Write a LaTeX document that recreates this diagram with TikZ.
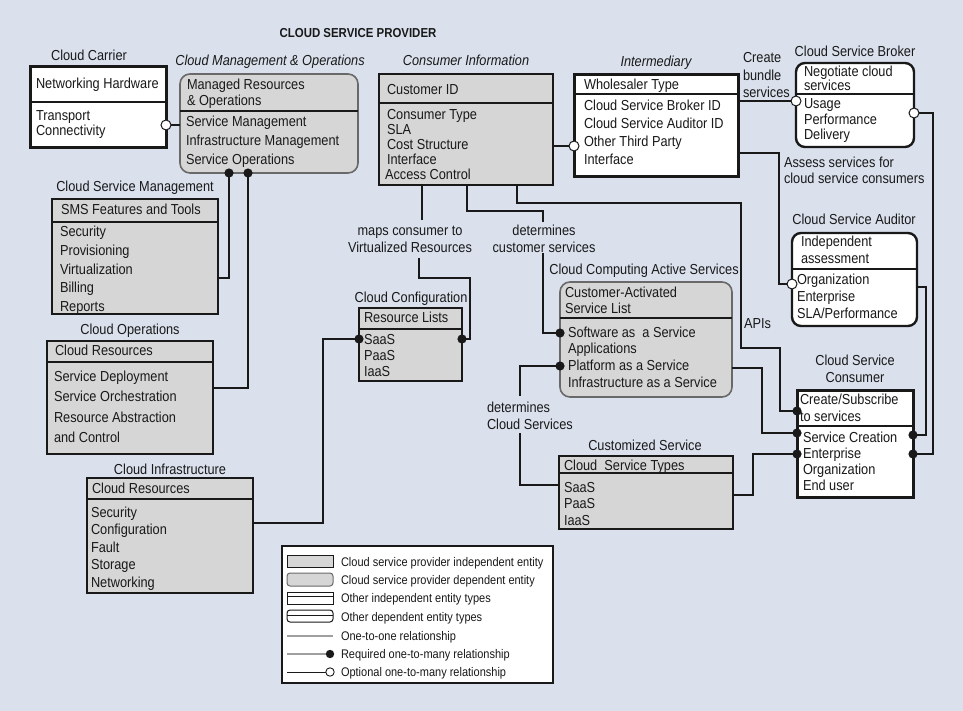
\documentclass[tikz,border=0pt]{standalone}
\usepackage{fontspec}
\setmainfont{Liberation Sans}[FakeStretch=0.88]
\definecolor{bg}{RGB}{218,225,237}
\definecolor{boxgray}{RGB}{214,214,214}
\definecolor{rgray}{RGB}{105,105,105}
\definecolor{ink}{RGB}{25,25,25}
\newcommand\reqdot[1]{\fill[ink] #1 circle[radius=4.6];}
\newcommand\opendot[1]{\draw[ink, line width=1pt, fill=white] #1 circle[radius=5];}
\newcommand\txtlines[5]{%
  \foreach \t [count=\i from 0] in {#5} {\node[txt] (#1\i) at (#2, {#3+\i*#4}) {\t};}}
\begin{document}
\begin{tikzpicture}[x=1pt, y=-1pt,
  txt/.style={font=\fontsize{14.5}{17}\selectfont, text=ink, inner sep=0, outer sep=0, anchor=base west},
  ctr/.style={txt, anchor=base},
  ital/.style={ctr, font=\fontsize{14.5}{17}\selectfont\itshape},
  leg/.style={txt, font=\fontsize{12.5}{15}\selectfont},
  gbox/.style={draw=ink, fill=boxgray, line width=1.2pt, rectangle, inner sep=0, outer sep=0, anchor=north west},
  rgbox/.style={gbox, draw=rgray, line width=1.6pt, rounded corners=10pt},
  wbox/.style={draw=ink, fill=white, line width=3pt, rectangle, inner sep=0, outer sep=0, anchor=north west},
  rwbox/.style={wbox, line width=2.4pt, rounded corners=9pt},
  div/.style={draw=ink, line width=1.2pt},
  conn/.style={draw=ink, line width=1.1pt}]
\path[use as bounding box, fill=bg] (0,0) rectangle (963,711);

% title
\node[ctr, font=\fontsize{13}{15}\selectfont\bfseries] (title) at (358,38) {CLOUD SERVICE PROVIDER};

% ---------- boxes ----------
\node[wbox, minimum width=136pt, minimum height=81pt] (carrier) at (30,67) {};
\node[rgbox, minimum width=178pt, minimum height=99pt] (cmgmt) at (180,74) {};
\node[gbox, minimum width=166pt, minimum height=115pt] (sms) at (52,199) {};
\node[gbox, minimum width=166pt, minimum height=113pt] (cops) at (47,341) {};
\node[gbox, minimum width=166pt, minimum height=115pt] (cinfra) at (87,478) {};
\node[gbox, minimum width=174pt, minimum height=111pt] (cinfo) at (379,74) {};
\node[gbox, minimum width=103pt, minimum height=73pt] (cconf) at (359,308) {};
\node[rgbox, minimum width=172pt, minimum height=115pt] (ccas) at (560,282) {};
\node[gbox, minimum width=174pt, minimum height=73pt] (cust) at (559,456) {};
\node[wbox, minimum width=164pt, minimum height=102pt] (inter) at (574,75) {};
\node[rwbox, minimum width=118pt, minimum height=84pt] (broker) at (796,63) {};
\node[rwbox, minimum width=125pt, minimum height=93pt] (auditor) at (792,233) {};
\node[wbox, minimum width=116pt, minimum height=107pt] (consumer) at (797,390) {};
\node[draw=ink, fill=white, line width=1.1pt, rectangle, inner sep=0, outer sep=0, anchor=north west,
      minimum width=271pt, minimum height=137pt] (legend) at (282,546) {};

% dividers
\draw[div] (carrier.west |- 0,102) -- (carrier.east |- 0,102);
\draw[div] (cmgmt.west |- 0,111) -- (cmgmt.east |- 0,111);
\draw[div] (sms.west |- 0,222) -- (sms.east |- 0,222);
\draw[div] (cops.west |- 0,362) -- (cops.east |- 0,362);
\draw[div] (cinfra.west |- 0,499) -- (cinfra.east |- 0,499);
\draw[div] (cinfo.west |- 0,103) -- (cinfo.east |- 0,103);
\draw[div] (cconf.west |- 0,329) -- (cconf.east |- 0,329);
\draw[div] (ccas.west |- 0,318) -- (ccas.east |- 0,318);
\draw[div] (cust.west |- 0,473) -- (cust.east |- 0,473);
\draw[div] (inter.west |- 0,94) -- (inter.east |- 0,94);
\draw[div] (broker.west |- 0,94) -- (broker.east |- 0,94);
\draw[div] (auditor.west |- 0,269) -- (auditor.east |- 0,269);
\draw[div] (consumer.west |- 0,426) -- (consumer.east |- 0,426);

% ---------- box labels ----------
\node[ctr] (lcarrier) at (89,61) {Cloud Carrier};
\node[ital] (lcmgmt) at (270,66) {Cloud Management \& Operations};
\node[ctr] (lsms) at (135,192) {Cloud Service Management};
\node[ctr] (lcops) at (130,334) {Cloud Operations};
\node[ctr] (lcinfra) at (170,474) {Cloud Infrastructure};
\node[ital] (lcinfo) at (466,66) {Consumer Information};
\node[ital] (linter) at (656,67) {Intermediary};
\node[ctr] (lbroker) at (855,57) {Cloud Service Broker};
\node[ctr] (lauditor) at (854,225) {Cloud Service Auditor};
\node[ctr] (lcons1) at (855,365) {Cloud Service};
\node[ctr] (lcons2) at (855,382) {Consumer};
\node[ctr] (lcconf) at (411,302) {Cloud Configuration};
\node[ctr] (lccas) at (644,274) {Cloud Computing Active Services};
\node[ctr] (lcust) at (645,450) {Customized Service};

% ---------- box texts ----------
\txtlines{carA}{36}{89}{15}{Networking Hardware}
\txtlines{carB}{36}{121}{15}{Transport, Connectivity}
\txtlines{cmA}{187}{90}{16}{Managed Resources, \& Operations}
\txtlines{cmB}{186}{127}{19}{Service Management, Infrastructure Management, Service Operations}
\txtlines{smsA}{61}{215}{18}{SMS Features and Tools}
\txtlines{smsB}{60}{237}{18.5}{Security, Provisioning, Virtualization, Billing, Reports}
\txtlines{copA}{55}{355}{18}{Cloud Resources}
\txtlines{copB}{54}{381}{20.5}{Service Deployment, Service Orchestration, Resource Abstraction, and Control}
\txtlines{cinA}{92}{493}{18}{Cloud Resources}
\txtlines{cinB}{91}{517}{17.5}{Security, Configuration, Fault, Storage, Networking}
\txtlines{ciA}{387}{95}{15}{Customer ID}
\txtlines{ciB}{387}{120}{15}{Consumer Type, SLA, Cost Structure, Interface}
\node[txt] (ciB4) at (385,180) {Access Control};
\txtlines{itA}{584}{90}{18}{Wholesaler Type}
\txtlines{itB}{584}{111}{18}{Cloud Service Broker ID, Cloud Service Auditor ID, Other Third Party, Interface}
\txtlines{brA}{804}{77}{14}{Negotiate cloud, services}
\txtlines{brB}{804}{109}{15.5}{Usage, Performance, Delivery}
\txtlines{auA}{801}{247}{17}{Independent, assessment}
\txtlines{auB}{797}{284}{17}{Organization, Enterprise, SLA/Performance}
\txtlines{coA}{800}{404}{17}{Create/Subscribe, to services}
\txtlines{coB}{803}{442}{16.3}{Service Creation, Enterprise, Organization, End user}
\txtlines{cfA}{364}{322}{16}{Resource Lists}
\txtlines{cfB}{364}{344}{16}{SaaS, PaaS, IaaS}
\txtlines{caA}{565}{297}{16.5}{Customer-Activated, Service List}
\txtlines{caB}{568}{337}{16.7}{Software as\ \ a Service, Applications, Platform as a Service, Infrastructure as a Service}
\txtlines{cuA}{564}{470}{16}{Cloud\ \ Service Types}
\txtlines{cuB}{564}{492}{16.5}{SaaS, PaaS, IaaS}

% ---------- connector labels ----------
\node[ctr] (mapsA) at (410,236) {maps consumer to};
\node[ctr] (mapsB) at (410,252) {Virtualized Resources};
\node[ctr] (detA) at (544,236) {determines};
\node[ctr] (detB) at (544,252) {customer services};
\node[txt] (det2A) at (487,412) {determines};
\node[txt] (det2B) at (487,429) {Cloud Services};
\node[txt] (apis) at (744,328) {APIs};
\txtlines{bund}{743}{63}{17.5}{Create, bundle, services}
\txtlines{assess}{784}{168}{16}{Assess services for, cloud service consumers}

% ---------- connectors ----------
\draw[conn] (carrier.east |- 0,125) -- (cmgmt.west |- 0,125);
\opendot{(carrier.east |- 0,125)}
\draw[conn] (cmgmt.south -| 229,0) |- (sms.east |- 0,278);
\reqdot{(cmgmt.south -| 229,0)}
\draw[conn] (cmgmt.south -| 248,0) |- (cops.east |- 0,388);
\reqdot{(cmgmt.south -| 248,0)}

\draw[conn] (cinfo.east |- 0,146) -- (inter.west |- 0,146);
\opendot{(inter.west |- 0,146)}

\coordinate (mapsTop) at (422,220);
\coordinate (mapsBot) at (419,258);
\draw[conn] (cinfo.south -| 422,0) -- (mapsTop);
\draw[conn] (mapsBot) -- (419,278) -| (470,339) -- (cconf.east |- 0,339);
\reqdot{(cconf.east |- 0,339)}

\coordinate (detTop) at (543,222);
\coordinate (detBot) at (543,253);
\draw[conn] (cinfo.south -| 467,0) |- (543,211) -- (detTop);
\draw[conn] (detBot) |- (ccas.west |- 0,333);
\reqdot{(ccas.west |- 0,333)}

\draw[conn] (cinfo.south -| 517,0) |- (741,203) |- (780,348) |- (consumer.west |- 0,411);
\reqdot{(consumer.west |- 0,411)}

\draw[conn] (cinfra.east |- 0,523) -| (323,339) -- (cconf.west |- 0,339);
\reqdot{(cconf.west |- 0,339)}

\coordinate (det2Top) at (520,396);
\coordinate (det2Bot) at (520,433);
\draw[conn] (ccas.west |- 0,366) -| (det2Top);
\draw[conn] (det2Bot) |- (cust.west |- 0,485);
\reqdot{(ccas.west |- 0,366)}

\draw[conn] (ccas.east |- 0,368) -| (762,433) -- (consumer.west |- 0,433);
\reqdot{(consumer.west |- 0,433)}
\draw[conn] (cust.east |- 0,495) -| (753,454) -- (consumer.west |- 0,454);
\reqdot{(consumer.west |- 0,454)}

\draw[conn] (inter.east |- 0,101) -- (broker.west |- 0,101);
\opendot{(broker.west |- 0,101)}
\draw[conn] (inter.east |- 0,153) -| (779,284) -- (auditor.west |- 0,284);
\opendot{(auditor.west |- 0,284)}

\draw[conn] (broker.east |- 0,113) -| (933,454) -- (consumer.east |- 0,454);
\opendot{(broker.east |- 0,113)}
\reqdot{(consumer.east |- 0,454)}
\draw[conn] (auditor.east |- 0,287) -| (926,435) -- (consumer.east |- 0,435);
\reqdot{(consumer.east |- 0,435)}

% ---------- legend ----------
\node[gbox, line width=1pt, minimum width=46pt, minimum height=12pt] (lg1) at (287,555) {};
\node[gbox, draw=rgray, line width=1pt, rounded corners=3pt, minimum width=46pt, minimum height=13pt] (lg2) at (287,573) {};
\node[wbox, line width=1pt, minimum width=46pt, minimum height=12pt] (lg3) at (287,592) {};
\draw[ink, line width=0.9pt] (lg3.west |- 0,596) -- (lg3.east |- 0,596);
\node[wbox, line width=1pt, rounded corners=3pt, minimum width=46pt, minimum height=12pt] (lg4) at (287,610) {};
\draw[ink, line width=0.9pt] (lg4.west |- 0,615) -- (lg4.east |- 0,615);
\coordinate (l5a) at (287,636); \coordinate (l5b) at (333,636);
\draw[gray!75, line width=1.6pt] (l5a) -- (l5b);
\coordinate (l6a) at (287,654); \coordinate (l6b) at (330,654);
\draw[gray!75, line width=1.6pt] (l6a) -- (l6b);
\fill[ink] (l6b) circle[radius=4.2];
\coordinate (l7a) at (287,672); \coordinate (l7b) at (330,672);
\draw[ink, line width=1pt] (l7a) -- (l7b);
\draw[ink, line width=0.9pt, fill=white] (l7b) circle[radius=4.2];
\node[leg] (lt1) at (341,566) {Cloud service provider independent entity};
\node[leg] (lt2) at (341,584) {Cloud service provider dependent entity};
\node[leg] (lt3) at (341,602) {Other independent entity types};
\node[leg] (lt4) at (341,621) {Other dependent entity types};
\node[leg] (lt5) at (341,640) {One-to-one relationship};
\node[leg] (lt6) at (341,658) {Required one-to-many relationship};
\node[leg] (lt7) at (341,676) {Optional one-to-many relationship};
\end{tikzpicture}
\end{document}
